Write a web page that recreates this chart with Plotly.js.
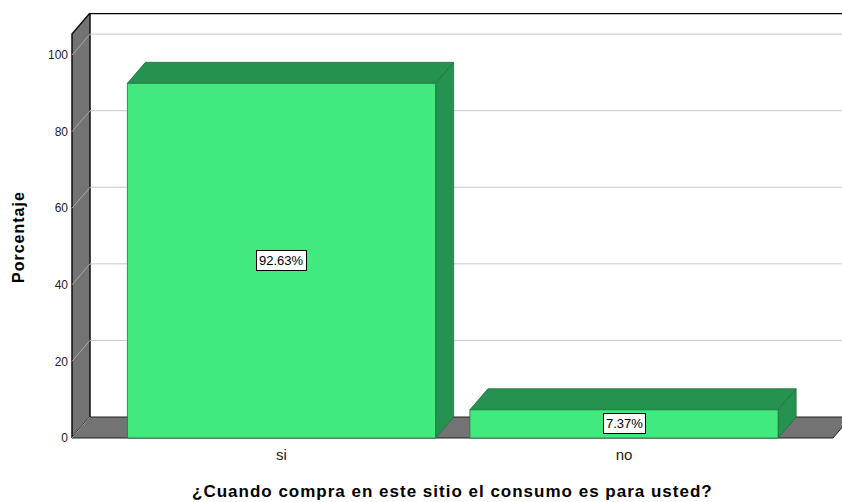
<!DOCTYPE html>
<html>
<head>
<meta charset="utf-8">
<script src="https://cdn.plot.ly/plotly-3.0.1.min.js"></script>
<style>html,body{margin:0;padding:0;background:#fff;}</style>
</head>
<body>
<div id="chart" style="width:842px;height:502px;"></div>
<script>
// ---- data ----
const categories = ["si", "no"];
const percentages = [92.63, 7.37];
const valueLabels = ["92.63%", "7.37%"];
const yTicks = [0, 20, 40, 60, 80, 100];
const xTitle = "¿Cuando compra en este sitio el consumo es para usted?";
const yTitle = "Porcentaje";

// ---- geometry (axis units) ----
const PXX = 342.5;           // px per x unit
const PXY = 3.829;           // px per y unit
const X0 = (71 - 281.5) / PXX;   // axis range start
const X1 = (842 - 281.5) / PXX;  // axis range end
const WALL_X = (72 - 281.5) / PXX;
const FLOOR_R = (833 - 281.5) / PXX;
const DX = 18 / PXX;
const DY = 21 / PXY;
const YMIN = -1 / PXY;
const YMAX = 111.0;
const WALL_TOP = YMAX - DY;
const BW = 0.9;

const GREEN = "rgb(66,233,126)";
const DGREEN = "rgb(38,146,80)";
const EDGE = "rgb(30,110,60)";
const WALL = "rgb(115,115,115)";
const FONT = "Liberation Sans, Arial, sans-serif";

const traces = [];
const xs = categories.map((c, i) => i);

// left wall
traces.push({type: "scatter", mode: "lines", fill: "toself", fillcolor: WALL,
  x: [WALL_X, WALL_X, WALL_X + DX, WALL_X + DX, WALL_X],
  y: [0, WALL_TOP, YMAX, DY, 0],
  line: {color: "#111", width: 1.5}, hoverinfo: "skip", showlegend: false});
// floor
traces.push({type: "scatter", mode: "lines", fill: "toself", fillcolor: WALL,
  x: [WALL_X, WALL_X + DX, FLOOR_R + DX, FLOOR_R, WALL_X],
  y: [0, DY, DY, 0, 0],
  line: {color: "#222", width: 1}, hoverinfo: "skip", showlegend: false});
// back-wall gridlines and wall diagonals
const gx = [], gy = [], dxs = [], dys = [];
yTicks.forEach(v => {
  if (v > 0) { gx.push(WALL_X + DX, X1 + 1, null); gy.push(v + DY, v + DY, null); }
  dxs.push(WALL_X, WALL_X + DX, null); dys.push(v, v + DY, null);
});
traces.push({type: "scatter", mode: "lines", x: gx, y: gy,
  line: {color: "#c8c8c8", width: 1}, hoverinfo: "skip", showlegend: false});
traces.push({type: "scatter", mode: "lines", x: dxs, y: dys,
  line: {color: "#a8a8a8", width: 1}, hoverinfo: "skip", showlegend: false});
// top border of back wall
traces.push({type: "scatter", mode: "lines", x: [WALL_X + DX, X1 + 1], y: [YMAX - 0.15, YMAX - 0.15],
  line: {color: "#000", width: 1.2}, hoverinfo: "skip", showlegend: false});

// bars: top, side and front faces
xs.forEach((c, i) => {
  const v = percentages[i];
  const l = c - BW / 2, r = c + BW / 2;
  traces.push({type: "scatter", mode: "lines", fill: "toself", fillcolor: DGREEN,
    x: [l, l + DX, r + DX, r, l], y: [v, v + DY, v + DY, v, v],
    line: {color: EDGE, width: 0.8}, hoverinfo: "skip", showlegend: false});
  traces.push({type: "scatter", mode: "lines", fill: "toself", fillcolor: DGREEN,
    x: [r, r, r + DX, r + DX, r], y: [0, v, v + DY, DY, 0],
    line: {color: EDGE, width: 0.8}, hoverinfo: "skip", showlegend: false});
  traces.push({type: "scatter", mode: "lines", fill: "toself", fillcolor: GREEN,
    x: [l, l, r, r, l], y: [0, v, v, 0, 0],
    line: {color: EDGE, width: 0.8}, hoverinfo: "skip", showlegend: false});
});

const annotations = xs.map((c, i) => ({
  x: c, y: percentages[i] / 2, xref: "x", yref: "y", text: valueLabels[i],
  showarrow: false, bgcolor: "#fff", bordercolor: "#000", borderwidth: 1, borderpad: 2,
  font: {family: FONT, size: 13, color: "#000"}
}));
annotations.push({text: "<b><span style=\"letter-spacing:1px\">" + xTitle + "</span></b>", xref: "paper", yref: "paper",
  x: (452 - 71) / 771, y: (439 - 492) / 426, xanchor: "center", yanchor: "middle",
  showarrow: false, font: {family: FONT, size: 17, color: "#000"}});
annotations.push({text: "<b><span style=\"letter-spacing:1px\">" + yTitle + "</span></b>", xref: "paper", yref: "paper", textangle: -90,
  x: (18 - 71) / 771, y: (439 - 237) / 426, xanchor: "center", yanchor: "middle",
  showarrow: false, font: {family: FONT, size: 16, color: "#000"}});

const layout = {
  width: 842, height: 502,
  margin: {l: 71, r: 0, t: 13, b: 63, pad: 0},
  paper_bgcolor: "#fff", plot_bgcolor: "#fff",
  font: {family: FONT, color: "#222"},
  xaxis: {range: [X0, X1], tickvals: xs, ticktext: categories, showgrid: false,
    zeroline: false, showline: false, ticks: "", tickfont: {size: 15, color: "#222"},
    ticklabelstandoff: 5, fixedrange: true},
  yaxis: {range: [YMIN, YMAX], tickvals: yTicks, showgrid: false, zeroline: false,
    showline: false, ticks: "", tickfont: {size: 12, color: "#222"},
    ticklabelstandoff: 2, fixedrange: true},
  annotations: annotations,
  showlegend: false
};

Plotly.newPlot("chart", traces, layout, {displayModeBar: false, staticPlot: true});
</script>
</body>
</html>
